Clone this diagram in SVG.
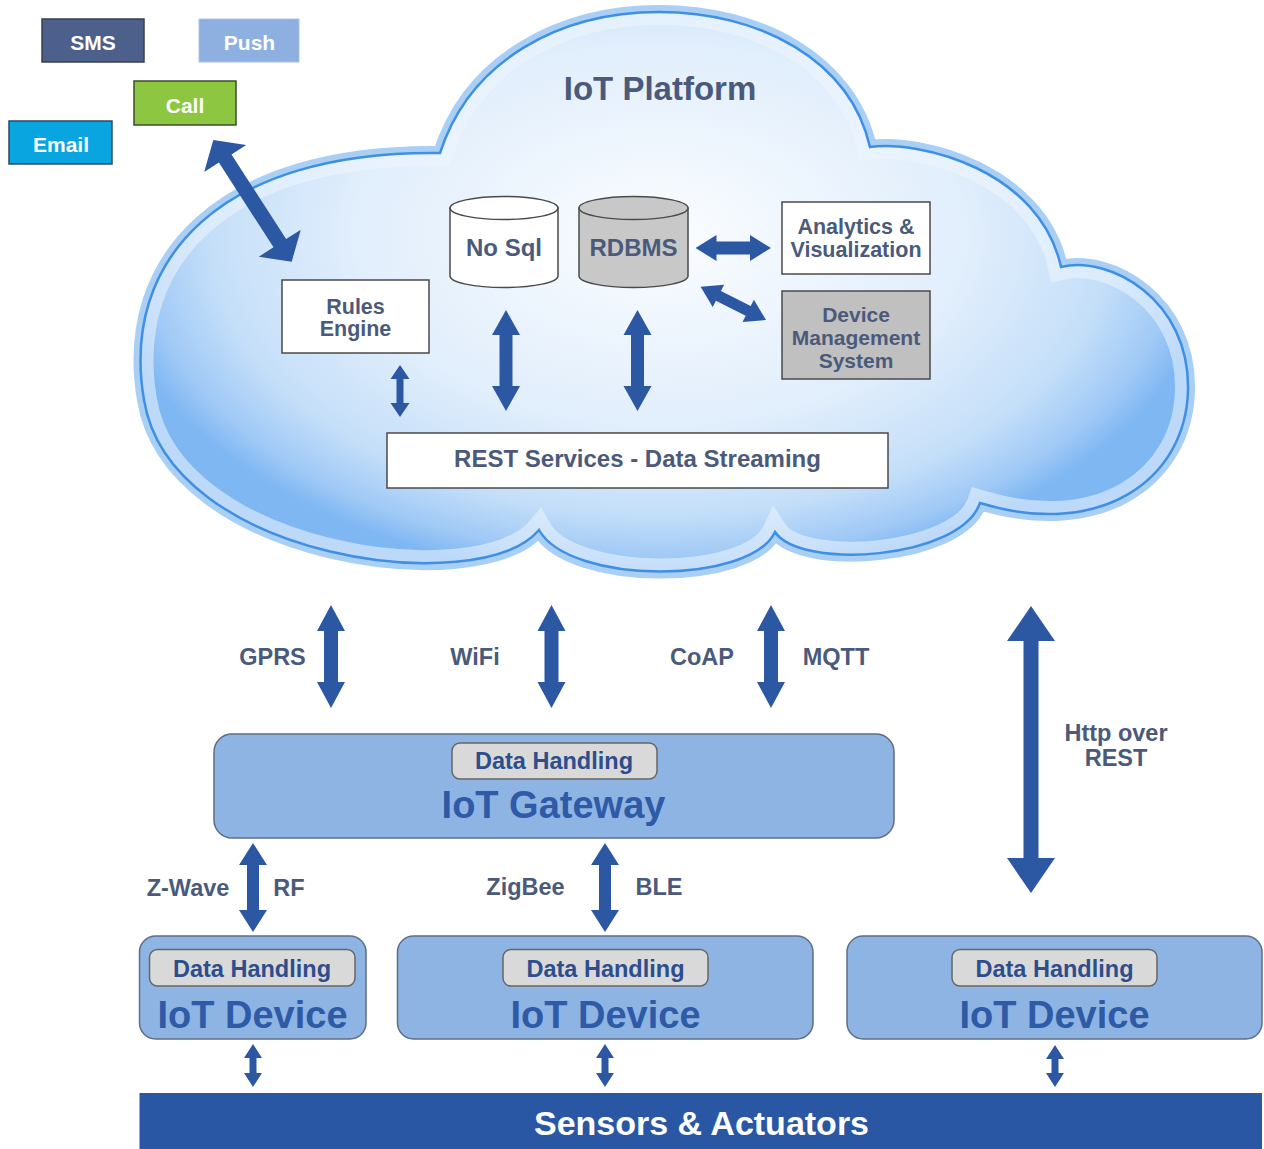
<svg xmlns="http://www.w3.org/2000/svg" width="1264" height="1149" viewBox="0 0 1264 1149">
<style>
text{font-family:"Liberation Sans",Arial,sans-serif;font-weight:bold;text-anchor:middle}
.w{fill:#ffffff;font-size:21px}
.lbl{fill:#4b5a7b;font-size:23.5px}
.in{fill:#4b5a7b}
.box{stroke:#4a4a4a;stroke-width:1.5}
.arr{fill:#2b57a3}
.blk{fill:#8db4e3;stroke:#5e6e86;stroke-width:1.5}
.dh{fill:#d9d9d9;stroke:#666666;stroke-width:1.5}
.dht{fill:#2c4e8c;font-size:23.5px}
.big{fill:#2e5aa6;font-size:38px}
</style>
<defs>
<radialGradient id="cg" gradientUnits="userSpaceOnUse" cx="660" cy="235" r="560" gradientTransform="translate(660 235) scale(1 0.62) translate(-660 -235)">
<stop offset="0" stop-color="#fbfdff"/>
<stop offset="0.55" stop-color="#e1eefc"/>
<stop offset="0.8" stop-color="#c5dff9"/>
<stop offset="0.93" stop-color="#a0c9f6"/>
<stop offset="1" stop-color="#7fb7f3"/>
</radialGradient>
<path id="cloud" d="M440,153 C470,60 560,12 659,12 C760,12 850,60 870,147 C920,140 1040,170 1061,267 C1110,255 1190,300 1188,390 C1186,480 1100,540 980,503 C960,560 800,570 775,532 C750,585 570,585 539,530 C480,600 170,560 144,400 C120,260 220,150 440,153 Z"/>
<clipPath id="cc"><use href="#cloud"/></clipPath>
</defs>

<g id="cloud-platform">
<use href="#cloud" fill="none" stroke="#a9cff5" stroke-width="14"/>
<use href="#cloud" fill="url(#cg)"/>
<use href="#cloud" fill="none" stroke="#eef6fe" stroke-width="26" opacity="0.55" clip-path="url(#cc)"/>
<use href="#cloud" fill="none" stroke="#3f8fe2" stroke-width="2.5"/>
<text x="660" y="100" class="in" style="font-size:33px">IoT Platform</text>
</g>

<g id="sms"><rect x="42" y="19" width="102" height="43" fill="#4d5f8b" stroke="#3b3f48" stroke-width="1.5"/><text x="93" y="50" class="w">SMS</text></g>
<g id="push"><rect x="199" y="19" width="100" height="43" fill="#8db0e0" stroke="#a9c2e6" stroke-width="1"/><text x="249.5" y="50" class="w">Push</text></g>
<g id="call"><rect x="134" y="81" width="102" height="44" fill="#8dc641" stroke="#3d4d2e" stroke-width="1.5"/><text x="185" y="112.5" class="w">Call</text></g>
<g id="email"><rect x="9" y="121" width="103" height="43" fill="#08a5e0" stroke="#2e4a5e" stroke-width="1.5"/><text x="61" y="152" class="w">Email</text></g>

<g id="rules-engine"><rect x="282" y="280" width="147" height="73" fill="#ffffff" class="box"/><text x="355.5" y="313.5" class="in" style="font-size:21.5px">Rules</text><text x="355.5" y="336" class="in" style="font-size:21.5px">Engine</text></g>

<g id="nosql"><path d="M450,208 V276 A54,11.5 0 0 0 558,276 V208 Z" fill="#ffffff" class="box"/><ellipse cx="504" cy="208" rx="54" ry="11.5" fill="#ffffff" class="box"/><text x="504" y="256" class="in" style="font-size:24px">No Sql</text></g>
<g id="rdbms"><path d="M579,208 V276 A54.5,11.5 0 0 0 688,276 V208 Z" fill="#c8c8c8" class="box"/><ellipse cx="633.5" cy="208" rx="54.5" ry="11.5" fill="#c8c8c8" class="box"/><text x="633.5" y="256" class="in" style="font-size:24px">RDBMS</text></g>

<g id="analytics"><rect x="782" y="202" width="148" height="72" fill="#ffffff" class="box"/><text x="856" y="233.5" class="in" style="font-size:21.5px">Analytics &amp;</text><text x="856" y="256.5" class="in" style="font-size:21.5px">Visualization</text></g>
<g id="device-management"><rect x="782" y="291" width="148" height="88" fill="#c0c0c0" class="box"/><text x="856" y="322" class="in" style="font-size:21px">Device</text><text x="856" y="344.5" class="in" style="font-size:21px">Management</text><text x="856" y="368" class="in" style="font-size:21px">System</text></g>

<g id="rest-services"><rect x="387" y="433" width="501" height="55" fill="#ffffff" class="box"/><text x="637.5" y="466.5" class="in" style="font-size:24px">REST Services - Data Streaming</text></g>

<g id="iot-gateway"><rect x="214" y="734" width="680" height="104" rx="18" class="blk"/><rect x="452" y="743" width="205" height="36" rx="8" class="dh"/><text x="554" y="769" class="dht">Data Handling</text><text x="553.5" y="818" class="big">IoT Gateway</text></g>

<g id="iot-device-1"><rect x="139.5" y="936" width="226.5" height="103" rx="16" class="blk"/><rect x="149.5" y="949.5" width="205.5" height="36.5" rx="8" class="dh"/><text x="252" y="976.5" class="dht">Data Handling</text><text x="252.5" y="1028" class="big">IoT Device</text></g>
<g id="iot-device-2"><rect x="397.5" y="936" width="415.5" height="103" rx="16" class="blk"/><rect x="503" y="949.5" width="205" height="36.5" rx="8" class="dh"/><text x="605.5" y="976.5" class="dht">Data Handling</text><text x="605.5" y="1028" class="big">IoT Device</text></g>
<g id="iot-device-3"><rect x="847" y="936" width="415" height="103" rx="16" class="blk"/><rect x="952" y="949.5" width="205" height="36.5" rx="8" class="dh"/><text x="1054.5" y="976.5" class="dht">Data Handling</text><text x="1054.5" y="1028" class="big">IoT Device</text></g>

<g id="sensors-actuators"><rect x="139.5" y="1093" width="1122.5" height="56" fill="#2a57a4"/><text x="701.5" y="1135" style="fill:#ffffff;font-size:34px">Sensors &amp; Actuators</text></g>

<g id="connectors">
<path class="arr" d="M213.3,140 L246.2,145 L231.5,154.4 L286.1,239.1 L300.8,229.7 L291.7,261.7 L258.8,256.7 L273.5,247.3 L218.9,162.6 L204.2,172 Z"/>
<path class="arr" d="M700.6,286.7 L724.1,284.7 L720.9,290.9 L750.7,306 L753.9,299.8 L766,320 L742.5,322 L745.7,315.8 L715.9,300.7 L712.7,306.9 Z"/>
<path class="arr" d="M695.5,248 L716.5,235 L716.5,241.5 L750,241.5 L750,235 L771,248 L750,261 L750,254.5 L716.5,254.5 L716.5,261 Z"/>
<path class="arr" d="M506,310 L520,335 L512.5,335 L512.5,386 L520,386 L506,411 L492,386 L499.5,386 L499.5,335 L492,335 Z"/>
<path class="arr" d="M637.5,310 L651.5,335 L644,335 L644,386 L651.5,386 L637.5,411 L623.5,386 L631,386 L631,335 L623.5,335 Z"/>
<path class="arr" d="M400,365 L409.5,379 L403.5,379 L403.5,403 L409.5,403 L400,417 L390.5,403 L396.5,403 L396.5,379 L390.5,379 Z"/>
<path class="arr" d="M331,605 L345,631 L338,631 L338,682 L345,682 L331,708 L317,682 L324,682 L324,631 L317,631 Z"/>
<path class="arr" d="M551.5,605 L565.5,631 L558.5,631 L558.5,682 L565.5,682 L551.5,708 L537.5,682 L544.5,682 L544.5,631 L537.5,631 Z"/>
<path class="arr" d="M771,605 L785,631 L778,631 L778,682 L785,682 L771,708 L757,682 L764,682 L764,631 L757,631 Z"/>
<path class="arr" d="M1031,606 L1055,641 L1038.5,641 L1038.5,858 L1055,858 L1031,893 L1007,858 L1023.5,858 L1023.5,641 L1007,641 Z"/>
<path class="arr" d="M253,843 L267,865 L259,865 L259,910 L267,910 L253,932 L239,910 L247,910 L247,865 L239,865 Z"/>
<path class="arr" d="M605,843 L619,865 L611,865 L611,910 L619,910 L605,932 L591,910 L599,910 L599,865 L591,865 Z"/>
<path class="arr" d="M253,1044 L262,1058 L256.5,1058 L256.5,1073 L262,1073 L253,1087 L244,1073 L249.5,1073 L249.5,1058 L244,1058 Z"/>
<path class="arr" d="M605,1044 L614,1058 L608.5,1058 L608.5,1073 L614,1073 L605,1087 L596,1073 L601.5,1073 L601.5,1058 L596,1058 Z"/>
<path class="arr" d="M1055,1045 L1064,1059 L1058.5,1059 L1058.5,1073 L1064,1073 L1055,1087 L1046,1073 L1051.5,1073 L1051.5,1059 L1046,1059 Z"/>
<text x="272.5" y="664.5" class="lbl">GPRS</text>
<text x="475" y="664.5" class="lbl">WiFi</text>
<text x="702" y="664.5" class="lbl">CoAP</text>
<text x="836" y="664.5" class="lbl">MQTT</text>
<text x="1116" y="741" class="lbl">Http over</text>
<text x="1116" y="766" class="lbl">REST</text>
<text x="188" y="895.5" class="lbl">Z-Wave</text>
<text x="289" y="895.5" class="lbl">RF</text>
<text x="525.5" y="895" class="lbl">ZigBee</text>
<text x="659" y="895" class="lbl">BLE</text>
</g>
</svg>
